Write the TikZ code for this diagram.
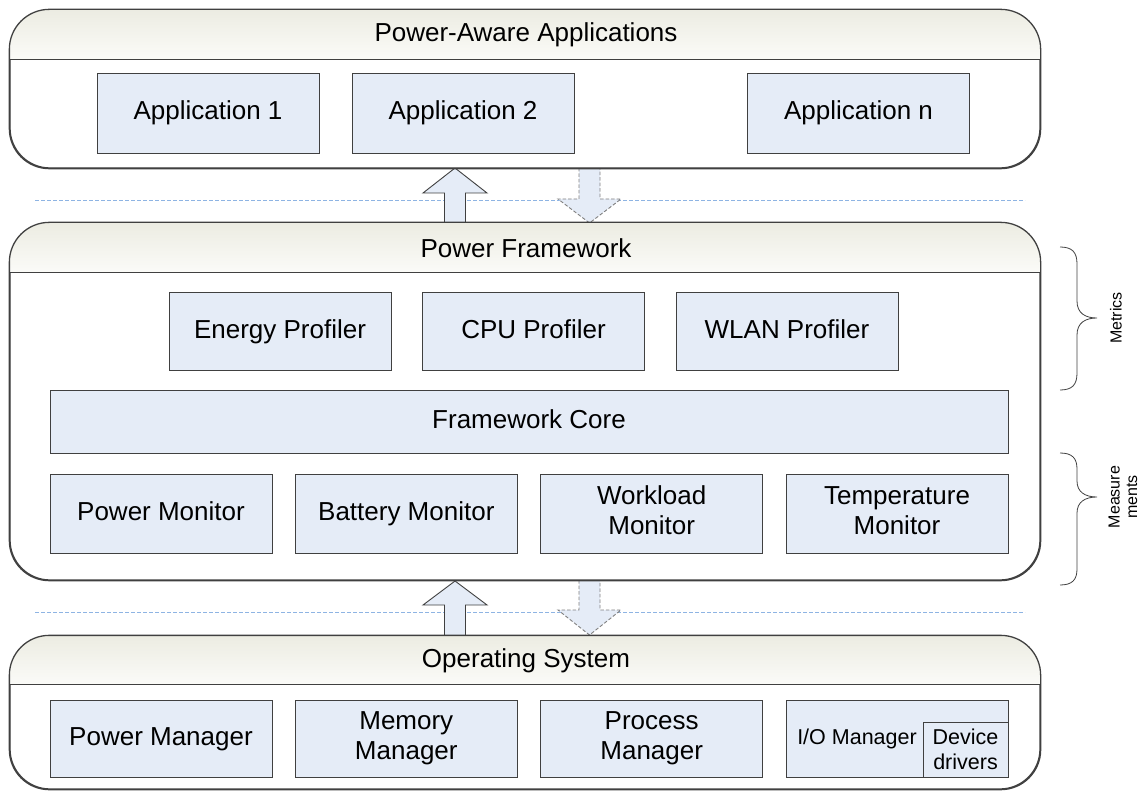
\documentclass[tikz,border=0pt]{standalone}
\usepackage{fontspec}
\setmainfont{Liberation Sans}
\definecolor{edge}{RGB}{64,64,64}
\definecolor{boxfill}{RGB}{229,236,247}
\definecolor{hdtop}{RGB}{236,236,226}
\definecolor{hdbot}{RGB}{251,251,248}
\definecolor{guide}{RGB}{142,180,227}
\definecolor{dashedge}{RGB}{128,128,128}
\newcommand\lyrfont{\fontsize{26}{30}\selectfont}
\newcommand\midfont{\fontsize{21.5}{25}\selectfont}
\newcommand\sidefont{\fontsize{16}{17.5}\selectfont}
\newcommand\lyrstrut{\rule[-6pt]{0pt}{26pt}}
\begin{document}
\begin{tikzpicture}[x=1pt,y=-1pt,
  layer/.style={draw=edge, line width=1.3pt, rounded corners=40pt, inner sep=0pt,
    fill=white, minimum width=1030pt},
  header/.style={top color=hdtop, bottom color=hdbot},
  comp/.style={draw=edge, line width=0.9pt, fill=boxfill, inner sep=2pt,
    align=center, font=\lyrfont},
  lined/.style={execute at begin node=\lyrstrut, execute at end node=\lyrstrut},
  app/.style={comp, lined, minimum width=222pt, minimum height=80pt},
  prof/.style={comp, lined, minimum width=222pt, minimum height=78pt},
  mon/.style={comp, lined, minimum width=222pt, minimum height=79pt},
  mgr/.style={comp, lined, minimum width=222pt, minimum height=77pt},
  title/.style={font=\lyrfont, inner sep=0pt},
  solidarrow/.style={draw=edge, line width=0.9pt, fill=boxfill},
  dasharrow/.style={draw=dashedge, line width=0.9pt, dash pattern=on 3.5pt off 2pt},
  guideline/.style={draw=guide, line width=0.8pt, dash pattern=on 4pt off 2pt},
  bracepath/.style={draw=edge, line width=0.8pt},
  sidelabel/.style={font=\sidefont, rotate=90, align=center, inner sep=0pt}
]
\useasboundingbox (0,0) rectangle (1145,791);

% layer guides
\draw[guideline] (35,200) coordinate (g1a) -- (1025,200) coordinate (g1b);
\draw[guideline] (35,612) coordinate (g2a) -- (1025,612) coordinate (g2b);

% block arrows between the layers
\draw[solidarrow] (444.5,223) -- (444.5,193) -- (423,193) -- (455,168)
  -- (487,193) -- (465.5,193) -- (465.5,223) -- cycle;
\fill[boxfill] (579,168) -- (579,199) -- (558,199) -- (589.5,223)
  -- (621,199) -- (600,199) -- (600,168) -- cycle;
\draw[dasharrow] (579,168) -- (579,199) -- (558,199) -- (589.5,223)
  -- (621,199) -- (600,199) -- (600,168);

\draw[solidarrow] (444.5,636) -- (444.5,605) -- (423,605) -- (455,581)
  -- (487,605) -- (465.5,605) -- (465.5,636) -- cycle;
\fill[boxfill] (579,580) -- (579,610) -- (558,610) -- (589.5,635)
  -- (621,610) -- (600,610) -- (600,580) -- cycle;
\draw[dasharrow] (579,580) -- (579,610) -- (558,610) -- (589.5,635)
  -- (621,610) -- (600,610) -- (600,580);

% layer containers: white body, shaded header band, outline
\node[layer, minimum height=158pt] (apps) at (525,89) {};
\node[layer, minimum height=357pt] (fw) at (525,401.5) {};
\node[layer, minimum height=153pt] (os) at (525,712.5) {};
\foreach \lyr/\hd in {apps/50, fw/50, os/49} {
  \begin{scope}
    \clip[rounded corners=40pt] (\lyr.north west) rectangle (\lyr.south east);
    \shade[header] (\lyr.north west) rectangle ([yshift=-\hd pt]\lyr.north east);
  \end{scope}
  \draw[edge, line width=1.3pt, rounded corners=40pt] (\lyr.north west) rectangle (\lyr.south east);
  \draw[edge, line width=1.1pt] ([yshift=-\hd pt]\lyr.north west) -- ([yshift=-\hd pt]\lyr.north east);
}

% layer titles
\node[title] (appsT) at (526,35) {Power-Aware Applications};
\node[title] (fwT) at (526,248) {Power Framework};
\node[title] (osT) at (526,661) {Operating System};

% applications
\node[app] (app1) at (208,113) {Application 1};
\node[app] (app2) at (463,113) {Application 2};
\node[app] (appn) at (858.5,113) {Application n};

% framework
\node[prof] (energy) at (280,331) {Energy Profiler};
\node[prof] (cpu) at (533.5,331) {CPU Profiler};
\node[prof] (wlan) at (787,331) {WLAN Profiler};
\node[comp, lined, minimum width=958pt, minimum height=63pt] (core) at (529,421.5) {Framework Core};
\node[mon] (pmon) at (161,513.5) {Power Monitor};
\node[mon] (bmon) at (406.3,513.5) {Battery Monitor};
\node[mon] (wmon) at (651.7,513.5) {Workload\\Monitor};
\node[mon] (tmon) at (897,513.5) {Temperature\\Monitor};

% operating system
\node[mgr] (pmgr) at (161,738.5) {Power Manager};
\node[mgr] (mmgr) at (406.3,738.5) {Memory\\Manager};
\node[mgr] (prmgr) at (651.7,738.5) {Process\\Manager};
\node[mgr] (iomgr) at (897,738.5) {};
\node[font=\midfont, inner sep=0pt] (ioT) at (857,739) {I/O Manager};
\node[comp, font=\midfont, minimum width=85pt, minimum height=55pt, inner sep=0pt]
  (drv) at (965.5,749.5) {Device\\drivers};

% side braces
\draw[bracepath] (1060,247) .. controls (1072,247) and (1077,252) .. (1077,264)
  -- (1077,301) .. controls (1077,313) and (1085,318) .. (1097,318)
  .. controls (1085,318) and (1077,323) .. (1077,335)
  -- (1077,373) .. controls (1077,385) and (1072,390) .. (1060,390);
\node[sidelabel] (metrics) at (1116,318) {Metrics};

\draw[bracepath] (1060,453) .. controls (1072,453) and (1077,458) .. (1077,469)
  -- (1077,481) .. controls (1077,492) and (1085,497) .. (1097,497)
  .. controls (1085,497) and (1077,502) .. (1077,513)
  -- (1077,569) .. controls (1077,580) and (1072,585) .. (1060,585);
\node[sidelabel] (meas) at (1123,497) {Measure\\ments};
\end{tikzpicture}
\end{document}
